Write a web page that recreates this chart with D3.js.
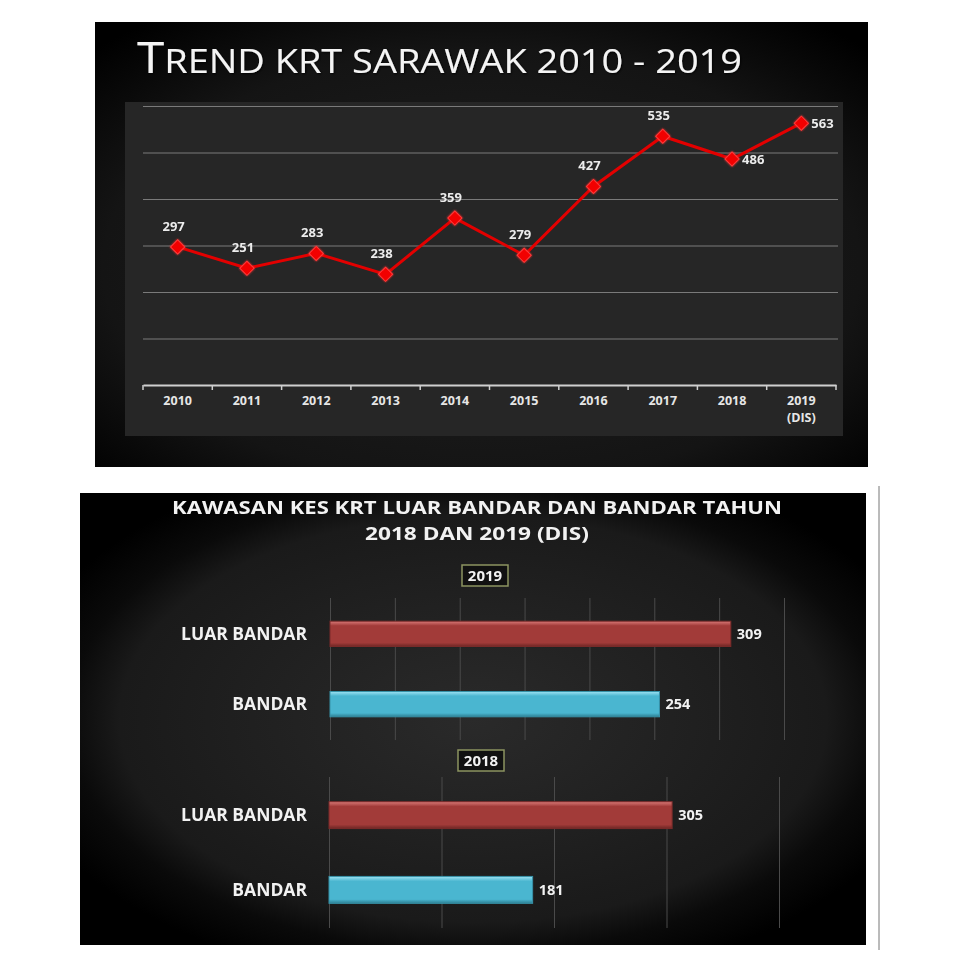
<!DOCTYPE html>
<html>
<head>
<meta charset="utf-8">
<script src="https://cdn.jsdelivr.net/npm/d3@7"></script>
<style>
  body { margin: 0; background: #fff; }
  svg { display: block; }
  text { font-family: "Open Sans", sans-serif; }
</style>
</head>
<body>
<div id="chart"></div>
<script>
// data
const years = ["2010", "2011", "2012", "2013", "2014", "2015", "2016", "2017", "2018", "2019"];
const yearNotes = ["", "", "", "", "", "", "", "", "", "(DIS)"];
const krtCases = [297, 251, 283, 238, 359, 279, 427, 535, 486, 563];
const trendTicks = [100, 200, 300, 400, 500, 600];

const areas = ["LUAR BANDAR", "BANDAR"];
const cases2019 = [309, 254];
const cases2018 = [305, 181];

const width = 960, height = 960;

const svg = d3.select("#chart") //main svg
  .append("svg")
  .attr("width", width)
  .attr("height", height)
  .attr("viewBox", [0, 0, width, height]);

const defs = svg.append("defs");

// radial backgrounds for both panels
let rg1 = defs.append("radialGradient").attr("id", "bgTop").attr("cx", "50%").attr("cy", "55%").attr("r", "70%");
rg1.append("stop").attr("offset", "0%").attr("stop-color", "#222");
rg1.append("stop").attr("offset", "70%").attr("stop-color", "#141414");
rg1.append("stop").attr("offset", "100%").attr("stop-color", "#000");

let rg2 = defs.append("radialGradient").attr("id", "bgBottom").attr("cx", "50%").attr("cy", "50%").attr("r", "60%");
rg2.append("stop").attr("offset", "0%").attr("stop-color", "#2a2a2a");
rg2.append("stop").attr("offset", "75%").attr("stop-color", "#1a1a1a");
rg2.append("stop").attr("offset", "86%").attr("stop-color", "#0a0a0a");
rg2.append("stop").attr("offset", "100%").attr("stop-color", "#000");

// bevel gradients for the bars
function barGradient(id, top, mid, bottom) {
  let g = defs.append("linearGradient").attr("id", id).attr("x1", 0).attr("y1", 0).attr("x2", 0).attr("y2", 1);
  g.append("stop").attr("offset", "0%").attr("stop-color", top);
  g.append("stop").attr("offset", "18%").attr("stop-color", mid);
  g.append("stop").attr("offset", "85%").attr("stop-color", mid);
  g.append("stop").attr("offset", "100%").attr("stop-color", bottom);
}
barGradient("redBar", "#d97a78", "#a23b39", "#6e2624");
barGradient("blueBar", "#9fe3f3", "#4ab6d0", "#2d7f93");

const shadow = defs.append("filter").attr("id", "glow");
shadow.append("feDropShadow").attr("dx", 1).attr("dy", 1).attr("stdDeviation", 1).attr("flood-color", "#000").attr("flood-opacity", 0.8);

const redGlow = defs.append("filter").attr("id", "redGlow").attr("x", "-50%").attr("y", "-50%").attr("width", "200%").attr("height", "200%");
redGlow.append("feGaussianBlur").attr("in", "SourceGraphic").attr("stdDeviation", 1.2).attr("result", "b");
let mg = redGlow.append("feMerge");
mg.append("feMergeNode").attr("in", "b");
mg.append("feMergeNode").attr("in", "SourceGraphic");

// ---------- top panel: trend line ----------
svg.append("rect")
  .attr("x", 95).attr("y", 22).attr("width", 773).attr("height", 445)
  .attr("fill", "url(#bgTop)");

svg.append("rect") //plot area
  .attr("x", 125).attr("y", 102).attr("width", 718).attr("height", 334)
  .attr("fill", "#262626");

let title = svg.append("text")
  .attr("x", 137).attr("y", 73)
  .attr("fill", "#f4f4f4")
  .attr("filter", "url(#glow)")
  .attr("textLength", 605)
  .attr("lengthAdjust", "spacingAndGlyphs");
title.append("tspan").attr("font-size", 43).text("T");
title.append("tspan").attr("font-size", 33).text("REND KRT SARAWAK 2010 - 2019");

let x = d3.scaleBand()
  .domain(years)
  .range([143, 836]);

let y = d3.scaleLinear()
  .domain([0, 600])
  .range([385, 106]);

svg.append("g") //horizontal gridlines
  .attr("transform", "translate(143,0)")
  .call(d3.axisLeft(y).tickValues(trendTicks).tickSize(-695).tickFormat(""))
  .call(g => g.select(".domain").remove())
  .call(g => g.selectAll("line").attr("stroke", "#7a7a7a").attr("stroke-width", 1.2));

svg.append("g") //x axis, labels centred on the bands
  .attr("transform", "translate(0,385)")
  .call(d3.axisBottom(x).tickSize(0).tickPadding(11))
  .call(g => g.select(".domain").attr("stroke", "#cfcfcf").attr("stroke-width", 2))
  .call(g => g.selectAll("text")
    .attr("fill", "#e6e6e6")
    .attr("font-size", 12.5)
    .attr("font-weight", "bold")
    .style("font-family", "'Open Sans', sans-serif"));

svg.append("g") //tick marks at band edges
  .selectAll("line")
  .data(years.map(d => x(d)).concat([x.range()[1]]))
  .join("line")
  .attr("x1", d => d).attr("x2", d => d)
  .attr("y1", 385).attr("y2", 390)
  .attr("stroke", "#cfcfcf").attr("stroke-width", 1.5);

svg.append("g") //second line under 2019
  .selectAll("text")
  .data(years.filter((d, i) => yearNotes[i] !== ""))
  .join("text")
  .attr("x", d => x(d) + x.bandwidth() / 2)
  .attr("y", 422)
  .attr("text-anchor", "middle")
  .attr("fill", "#e6e6e6")
  .attr("font-size", 12.5)
  .attr("font-weight", "bold")
  .style("font-family", "'Open Sans', sans-serif")
  .text(d => yearNotes[years.indexOf(d)]);

const trend = years.map((d, i) => ({ year: d, value: krtCases[i] }));
const cx = d => x(d.year) + x.bandwidth() / 2;

let line = d3.line()
  .x(cx)
  .y(d => y(d.value));

svg.append("path")
  .datum(trend)
  .attr("fill", "none")
  .attr("stroke", "#e30000")
  .attr("stroke-width", 3)
  .attr("d", line);

svg.append("g") //diamond markers
  .attr("filter", "url(#redGlow)")
  .selectAll("path")
  .data(trend)
  .join("path")
  .attr("transform", d => `translate(${cx(d)},${y(d.value)}) rotate(45)`)
  .attr("d", d3.symbol(d3.symbolSquare, 100))
  .attr("fill", "#f20000")
  .attr("stroke", "#ff3a3a")
  .attr("stroke-width", 1);

const sideLabels = new Set(["2018", "2019"]); //these two sit right of the point

svg.append("g") //value labels
  .selectAll("text")
  .data(trend)
  .join("text")
  .attr("x", d => sideLabels.has(d.year) ? cx(d) + 10 : cx(d) - 4)
  .attr("y", d => sideLabels.has(d.year) ? y(d.value) + 5 : y(d.value) - 16)
  .attr("text-anchor", d => sideLabels.has(d.year) ? "start" : "middle")
  .attr("fill", "#ececec")
  .attr("font-size", 13)
  .attr("font-weight", "bold")
  .style("font-family", "'Open Sans', sans-serif")
  .text(d => d.value);

// ---------- bottom panel: bars ----------
svg.append("rect")
  .attr("x", 80).attr("y", 493).attr("width", 786).attr("height", 452)
  .attr("fill", "url(#bgBottom)");

svg.append("line") //thin separator on the right
  .attr("x1", 879).attr("x2", 879).attr("y1", 486).attr("y2", 950)
  .attr("stroke", "#777").attr("stroke-width", 1);

svg.append("text")
  .attr("x", 477).attr("y", 514)
  .attr("text-anchor", "middle")
  .attr("fill", "#f2f2f2")
  .attr("font-size", 18.5)
  .attr("font-weight", "bold")
  .attr("textLength", 610)
  .attr("lengthAdjust", "spacingAndGlyphs")
  .text("KAWASAN KES KRT LUAR BANDAR DAN BANDAR TAHUN");

svg.append("text")
  .attr("x", 477).attr("y", 540)
  .attr("text-anchor", "middle")
  .attr("fill", "#f2f2f2")
  .attr("font-size", 18.5)
  .attr("font-weight", "bold")
  .attr("textLength", 224)
  .attr("lengthAdjust", "spacingAndGlyphs")
  .text("2018 DAN 2019 (DIS)");

function barPanel(values, year, xMax, xStep, xRange, yRange, boxX, boxY) {
  let bx = d3.scaleLinear().domain([0, xMax]).range(xRange);
  let by = d3.scaleBand().domain(areas).range(yRange).paddingInner(0.64).paddingOuter(0.33);
  let g = svg.append("g");

  g.append("g") //vertical gridlines
    .attr("transform", `translate(0,${yRange[0]})`)
    .call(d3.axisBottom(bx).tickValues(d3.range(0, xMax + 1, xStep)).tickSize(yRange[1] - yRange[0]).tickFormat(""))
    .call(a => a.select(".domain").remove())
    .call(a => a.selectAll("line").attr("stroke", "#4a4a4a").attr("stroke-width", 1));

  let rows = areas.map((d, i) => ({ area: d, value: values[i] }));

  g.selectAll("rect.bar")
    .data(rows)
    .join("rect")
    .attr("class", "bar")
    .attr("x", bx(0))
    .attr("y", d => by(d.area))
    .attr("width", d => bx(d.value) - bx(0))
    .attr("height", by.bandwidth())
    .attr("fill", (d, i) => i === 0 ? "url(#redBar)" : "url(#blueBar)")
    .attr("stroke", (d, i) => i === 0 ? "#7a2b2a" : "#3792a8")
    .attr("stroke-width", 1);

  g.selectAll("text.cat")
    .data(rows)
    .join("text")
    .attr("class", "cat")
    .attr("x", 307)
    .attr("y", d => by(d.area) + by.bandwidth() / 2 + 6)
    .attr("text-anchor", "end")
    .attr("fill", "#f2f2f2")
    .attr("font-size", 17.5)
    .attr("font-weight", "bold")
    .text(d => d.area);

  g.selectAll("text.val")
    .data(rows)
    .join("text")
    .attr("class", "val")
    .attr("x", d => bx(d.value) + 6)
    .attr("y", d => by(d.area) + by.bandwidth() / 2 + 5)
    .attr("fill", "#f2f2f2")
    .attr("font-size", 14.5)
    .attr("font-weight", "bold")
    .text(d => d.value);

  g.append("rect") //year box
    .attr("x", boxX - 23).attr("y", boxY - 10).attr("width", 46).attr("height", 21)
    .attr("fill", "#111").attr("stroke", "#8c9460").attr("stroke-width", 1.5);
  g.append("text")
    .attr("x", boxX).attr("y", boxY + 6)
    .attr("text-anchor", "middle")
    .attr("fill", "#f2f2f2")
    .attr("font-size", 15)
    .attr("font-weight", "bold")
    .text(year);
}

barPanel(cases2019, "2019", 350, 50, [330, 784], [598, 740], 485, 575);
barPanel(cases2018, "2018", 400, 100, [329, 779], [777, 928], 481, 760);
</script>
</body>
</html>
